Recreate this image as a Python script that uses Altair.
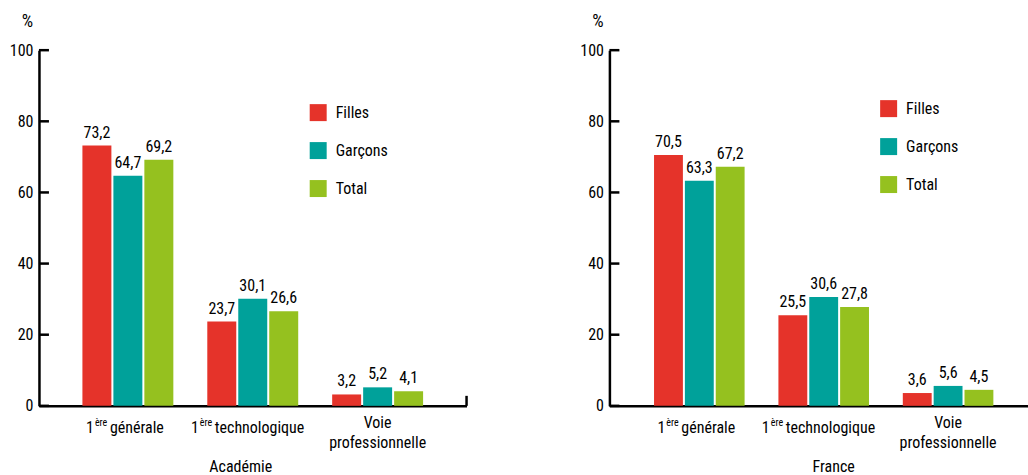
import altair as alt
import pandas as pd

# Categories, series and values
categories = ["1ère générale", "1ère technologique", "Voie professionnelle"]
series = ["Filles", "Garçons", "Total"]
colors = ["#E5332A", "#00A19A", "#95C11F"]

academie_filles = [73.2, 23.7, 3.2]
academie_garcons = [64.7, 30.1, 5.2]
academie_total = [69.2, 26.6, 4.1]

france_filles = [70.5, 25.5, 3.6]
france_garcons = [63.3, 30.6, 5.6]
france_total = [67.2, 27.8, 4.5]

y_ticks = [0, 20, 40, 60, 80, 100]

# Category labels, split so the ordinal suffix can be raised
label_prefix = ["1", "1", ""]
label_sup = ["ère", "ère", ""]
label_main = ["générale", "technologique", "Voie\nprofessionnelle"]

FONT = "Liberation Sans Narrow, Roboto Condensed, DejaVu Sans Condensed, sans-serif"
H = 356


def fmt(v):
    return f"{v:.1f}".replace(".", ",")


def panel(title, filles, garcons, total, width, x_scale, legend_y, title_dx,
          prefix_dx, sup_dx, main_dx):
    rows = []
    for vals, s in zip([filles, garcons, total], series):
        for c, v in zip(categories, vals):
            rows.append({"cat": c, "serie": s, "value": v, "label": fmt(v)})
    df = pd.DataFrame(rows)

    x_enc = alt.X("cat:N", scale=x_scale, axis=alt.Axis(
        labels=False, ticks=False, title=None, domainWidth=2.5,
        domainColor="black", grid=False))
    y_scale = alt.Scale(domain=[0, 100], nice=False)
    y_axis = alt.Axis(values=y_ticks, ticks=False, grid=False, domainWidth=2.5,
                      domainColor="black", labelPadding=6, labelFontSize=16,
                      labelFont=FONT, labelColor="black", title="%",
                      titleAngle=0, titleX=-12, titleY=-20, titleAlign="center",
                      titleBaseline="bottom", titleFontWeight="normal",
                      titleFontSize=18, titleFont=FONT, titleColor="black")
    x_off = alt.XOffset("serie:N", scale=alt.Scale(domain=series, paddingInner=0.0645,
                                                   paddingOuter=0.548))

    bars = alt.Chart(df).mark_bar().encode(
        x=x_enc,
        xOffset=x_off,
        y=alt.Y("value:Q", scale=y_scale, axis=y_axis),
        color=alt.Color("serie:N", scale=alt.Scale(domain=series, range=colors),
                        legend=alt.Legend(orient="none", legendX=271, legendY=legend_y,
                                          symbolType="square", symbolSize=289,
                                          symbolStrokeWidth=0, labelFontSize=16,
                                          labelFont=FONT, labelOffset=9, rowPadding=21,
                                          title=None, padding=0, labelColor="black")),
    )

    values = alt.Chart(df).mark_text(baseline="bottom", dy=-5, fontSize=16,
                                     font=FONT, color="black").encode(
        x=x_enc, xOffset=x_off,
        y=alt.Y("value:Q", scale=y_scale, axis=y_axis),
        text="label:N",
    )

    tick_df = pd.DataFrame({"tick": y_ticks})
    ticks = alt.Chart(tick_df).mark_rule(strokeWidth=2.5, color="black").encode(
        y=alt.Y("tick:Q", scale=y_scale, axis=y_axis),
        x=alt.value(0), x2=alt.value(10),
    )

    layers = [bars, values, ticks]

    for i, c in enumerate(categories):
        cdf = pd.DataFrame({"cat": [c], "p": [label_prefix[i]],
                            "s": [label_sup[i]], "m": [label_main[i]]})
        if label_prefix[i]:
            layers.append(alt.Chart(cdf).mark_text(
                align="right", baseline="alphabetic", fontSize=16, font=FONT,
                color="black", dx=prefix_dx[i]).encode(
                x=x_enc, y=alt.value(H + 27), text="p:N"))
            layers.append(alt.Chart(cdf).mark_text(
                align="left", baseline="alphabetic", fontSize=10, font=FONT,
                color="black", dx=sup_dx[i]).encode(
                x=x_enc, y=alt.value(H + 20), text="s:N"))
            layers.append(alt.Chart(cdf).mark_text(
                align="left", baseline="alphabetic", fontSize=16, font=FONT,
                color="black", dx=main_dx[i]).encode(
                x=x_enc, y=alt.value(H + 27), text="m:N"))
        else:
            layers.append(alt.Chart(cdf).mark_text(
                align="center", baseline="alphabetic", fontSize=16, font=FONT,
                color="black", lineBreak="\n", lineHeight=20).encode(
                x=x_enc, y=alt.value(H + 22), text="m:N"))

    tdf = pd.DataFrame({"cat": [categories[1]], "t": [title]})
    layers.append(alt.Chart(tdf).mark_text(
        align="center", baseline="alphabetic", fontSize=16, font=FONT,
        color="black", dx=title_dx).encode(
        x=x_enc, y=alt.value(H + 66), text="t:N"))

    return alt.layer(*layers).properties(width=width, height=H)


left = panel("Académie", academie_filles, academie_garcons, academie_total, 428,
             alt.Scale(domain=categories, paddingInner=0, paddingOuter=0.212),
             54, -12, [-34, -54], [-33, -53], [-18, -38])
# closing tick at the right end of the left x axis
left = alt.layer(
    left,
    alt.Chart(pd.DataFrame({"v": [0]})).mark_rule(strokeWidth=2.5, color="black").encode(
        x=alt.value(428), y=alt.value(H), y2=alt.value(H - 10)),
)

right = panel("France", france_filles, france_garcons, france_total, 419,
              alt.Scale(domain=categories, paddingInner=0, paddingOuter=0.1827, align=0.61),
              50, 10, [-34, -54], [-33, -53], [-18, -38])

chart = alt.hconcat(left, right, spacing=111).resolve_scale(
    x="independent", y="independent", color="independent", xOffset="independent"
).properties(
    padding={"left": 9, "top": 12, "right": 0, "bottom": 0},
    background="white",
).configure_view(stroke=None)

chart.save("out.html", embed_options={"renderer": "svg", "actions": False})
